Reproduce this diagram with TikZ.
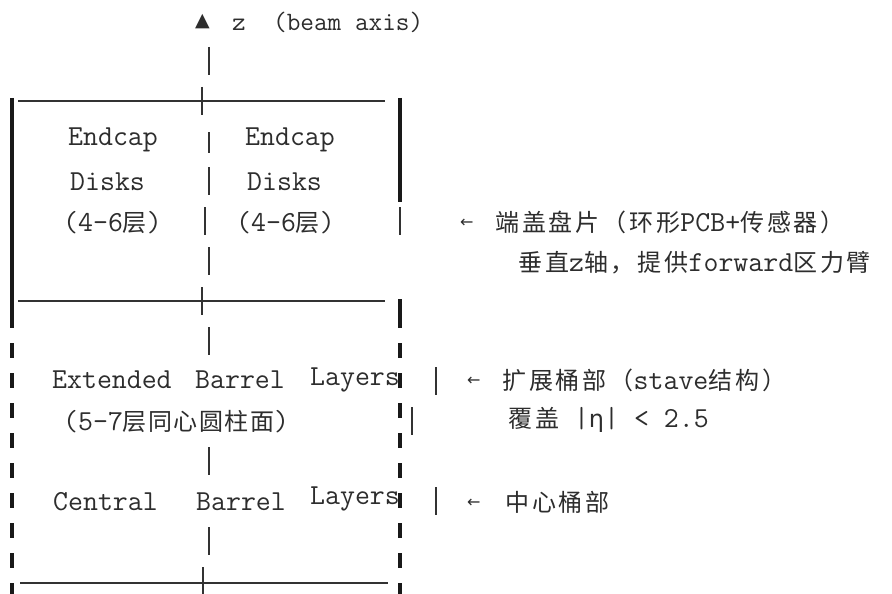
\documentclass[tikz,border=0pt]{standalone}
\usepackage{fontspec}
\newfontfamily\cjk[LetterSpace=6]{Noto Sans CJK SC}
\newfontfamily\cjka[LetterSpace=12]{Noto Sans CJK SC}
\newfontfamily\dvs{DejaVu Sans}
\definecolor{txt}{RGB}{45,45,45}
\definecolor{bar}{RGB}{25,25,25}
\definecolor{ln}{RGB}{50,50,50}
\newcommand\cj[1]{{\cjk\fontsize{24}{24}\selectfont #1}}
\newcommand\cja[1]{{\cjka\fontsize{24}{24}\selectfont #1}}
\tikzset{
  mono/.style={font=\ttfamily\fontsize{29}{29}\selectfont, inner sep=0pt, anchor=west, text=txt},
  thickbar/.style={line width=4.5pt, draw=bar},
  thinbar/.style={line width=1.4pt, draw=ln},
  hline/.style={line width=1.3pt, draw=ln},
  dashbar/.style={line width=4.5pt, draw=bar, dash pattern=on 15pt off 15pt},
}
\begin{document}
\begin{tikzpicture}[x=1pt,y=-1pt]
\useasboundingbox[fill=white] (0,0) rectangle (892,594);

% top axis label
\node[mono] (tri) at (195,22) {\dvs\fontsize{19}{19}\selectfont ▲};
\node[mono,font=\ttfamily\fontsize{26.5}{26.5}\selectfont] (zlab) at (232,22) {z~~(beam axis)};
\draw[thinbar] (209,47) -- (209,75);

% top horizontal line with cross
\draw[hline] (18,101) -- (385,101);
\draw[thinbar] (202,87) -- (202,115);

% outer bars, endcap section
\draw[thickbar] (12,98) -- (12,328);
\draw[thickbar] (400,98) -- (400,202);
\draw[thinbar] (400,207) -- (400,235);

% center bars endcap section
\draw[thinbar] (209,132) -- (209,153);
\draw[thinbar] (209,167) -- (209,195);
\draw[thinbar] (205,207) -- (205,235);
\draw[thinbar] (209,247) -- (209,275);

% endcap texts
\node[mono] (ec1) at (68,140) {Endcap};
\node[mono] (ec2) at (245,140) {Endcap};
\node[mono] (dk1) at (70,182) {Disks};
\node[mono] (dk2) at (247,182) {Disks};
\node[mono] (ly1) at (63,223) {(4-6\cj{层})};
\node[mono] (ly2) at (236,223) {(4-6\cj{层})};

% middle horizontal line with cross
\draw[hline] (18,301) -- (385,301);
\draw[thinbar] (202,287) -- (202,315);

% barrel section outer bars
\draw[thickbar] (400,299) -- (400,328);
\draw[dashbar] (12,343) -- (12,594);
\draw[dashbar] (400,343) -- (400,594);

% barrel center bars
\draw[thinbar] (209,327) -- (209,355);
\draw[thinbar] (209,447) -- (209,475);
\draw[thinbar] (209,527) -- (209,555);

% barrel texts
\node[mono] (ex) at (52,380) {Extended};
\node[mono] (eb) at (195,380) {Barrel};
\node[mono] (el) at (310,380) {Layers};
\node[mono] (cyl) at (63,422) {(5-7\cj{层同心圆柱面})};
\node[mono] (ce) at (53,502) {Central};
\node[mono] (cb) at (196,502) {Barrel};
\node[mono] (cl) at (310,499) {Layers};

% bottom horizontal line with cross
\draw[hline] (20,583) -- (388,583);
\draw[thinbar] (203,567) -- (203,594);

% right side marker bars
\draw[thinbar] (436,367) -- (436,395);
\draw[thinbar] (412,407) -- (412,435);
\draw[thinbar] (436,487) -- (436,515);

% annotations
\node[mono] (ar1) at (460,223) {\dvs\fontsize{16}{16}\selectfont ←};
\node[mono] (an1) at (495,222) {\cja{端盖盘片（环形}PCB+\cja{传感器）}};
\node[mono] (an2) at (518,263) {\cja{垂直}z\cja{轴，提供}forward\cja{区力臂}};
\node[mono] (ar2) at (467,381) {\dvs\fontsize{16}{16}\selectfont ←};
\node[mono] (an3) at (502,380) {\cja{扩展桶部（}stave\cja{结构）}};
\node[mono] (an4) at (508,420) {\cja{覆盖}~|{\dvs\fontsize{24}{24}\selectfont η}|~<~2.5};
\node[mono] (ar3) at (467,503) {\dvs\fontsize{16}{16}\selectfont ←};
\node[mono] (an5) at (505,502) {\cja{中心桶部}};
\end{tikzpicture}
\end{document}
